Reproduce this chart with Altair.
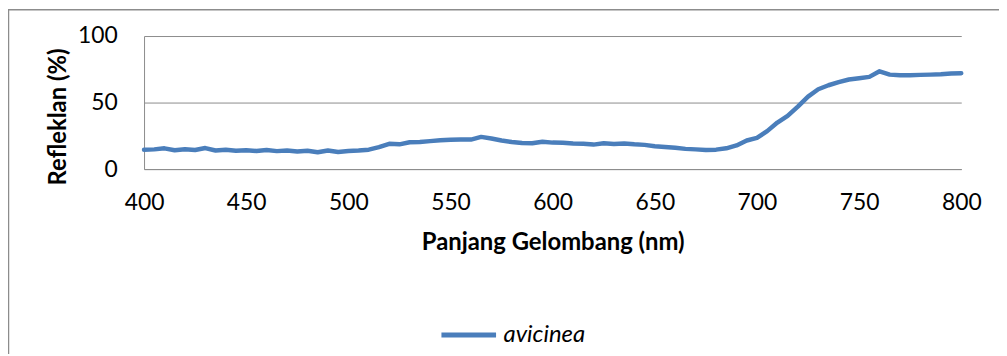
import altair as alt
import pandas as pd

# Wavelength (nm) and reflectance (%)
wavelength = [400, 405, 410, 415, 420, 425, 430, 435, 440, 445,
              450, 455, 460, 465, 470, 475, 480, 485, 490, 495,
              500, 505, 510, 515, 520, 525, 530, 535, 540, 545,
              550, 555, 560, 565, 570, 575, 580, 585, 590, 595,
              600, 605, 610, 615, 620, 625, 630, 635, 640, 645,
              650, 655, 660, 665, 670, 675, 680, 685, 690, 695,
              700, 705, 710, 715, 720, 725, 730, 735, 740, 745,
              750, 755, 760, 765, 770, 775, 780, 785, 790, 795, 800]
reflectance = [14.5, 14.8, 15.6, 14.2, 14.9, 14.3, 15.8, 14.0, 14.6, 13.8,
               14.2, 13.6, 14.3, 13.5, 13.9, 13.2, 13.8, 12.6, 14.0, 12.9,
               13.6, 14.0, 14.6, 16.5, 19.0, 18.6, 20.2, 20.4, 21.0, 21.6,
               22.1, 22.3, 22.2, 24.2, 23.0, 21.5, 20.4, 19.6, 19.4, 20.6,
               19.9, 19.8, 19.3, 19.0, 18.4, 19.4, 18.9, 19.2, 18.6, 18.2,
               17.2, 16.6, 16.0, 15.2, 14.8, 14.3, 14.6, 15.6, 17.8, 21.5,
               23.5, 28.5, 35.0, 40.0, 47.0, 54.5, 60.0, 63.0, 65.3, 67.3,
               68.3, 69.3, 73.5, 71.0, 70.5, 70.6, 70.8, 71.0, 71.3, 71.8, 72.0]
series_name = ["avicinea"]
x_ticks = [400, 450, 500, 550, 600, 650, 700, 750, 800]
y_ticks = [0, 50, 100]

df = pd.DataFrame({
    "nm": wavelength,
    "refl": reflectance,
    "series": series_name * len(wavelength),
})

FONT = "Lato"
GRID = "#8C8C8C"
BLUE = "#4A7EBB"

line = alt.Chart(df).mark_line(strokeWidth=4.5, strokeCap="round", strokeJoin="round").encode(
    x=alt.X("nm:Q", scale=alt.Scale(domain=[400, 800], nice=False, zero=False),
            axis=alt.Axis(values=x_ticks, title="Panjang Gelombang (nm)", grid=False,
                          ticks=False, domainColor=GRID, domainWidth=1,
                          labelFont=FONT, labelFontSize=23, labelColor="black",
                          labelPadding=34, labelBaseline="middle", labelFlush=False,
                          titleFont=FONT, titleFontSize=24, titleFontWeight="bold",
                          titleColor="black", titleBaseline="middle", titleY=74)),
    y=alt.Y("refl:Q", scale=alt.Scale(domain=[0, 100], nice=False),
            axis=alt.Axis(values=y_ticks, title="Refleklan (%)", grid=True,
                          gridColor=GRID, gridWidth=1, ticks=False,
                          domainColor=GRID, domainWidth=1,
                          labelFont=FONT, labelFontSize=23, labelColor="black",
                          labelPadding=27, labelBaseline="middle", labelFlush=False,
                          titleFont=FONT, titleFontSize=24, titleFontWeight="bold",
                          titleColor="black", titleBaseline="middle", titleAlign="center",
                          titleX=-86, titleY=81)),
    color=alt.Color("series:N", scale=alt.Scale(domain=series_name, range=[BLUE]),
                    legend=alt.Legend(title=None, orient="none", legendX=297, legendY=271,
                                      symbolType="stroke", symbolSize=3025,
                                      symbolStrokeWidth=5, labelFont=FONT,
                                      labelFontSize=24, labelFontStyle="italic",
                                      labelColor="black", labelOffset=5, padding=0)),
)

frame = alt.Chart(pd.DataFrame({"k": [0]})).mark_rect(
    fill=None, stroke=GRID, strokeWidth=1.5
).encode(
    x=alt.value(-136.5), x2=alt.value(1100), y=alt.value(-26.5), y2=alt.value(400)
)

chart = alt.layer(frame, line).properties(
    width=823, height=134,
    padding={"left": 137, "top": 27, "right": 38, "bottom": 185},
    autosize=alt.AutoSizeParams(type="none"),
).configure_view(stroke=None)

chart.save("out.html", embed_options={"renderer": "svg", "actions": False})
